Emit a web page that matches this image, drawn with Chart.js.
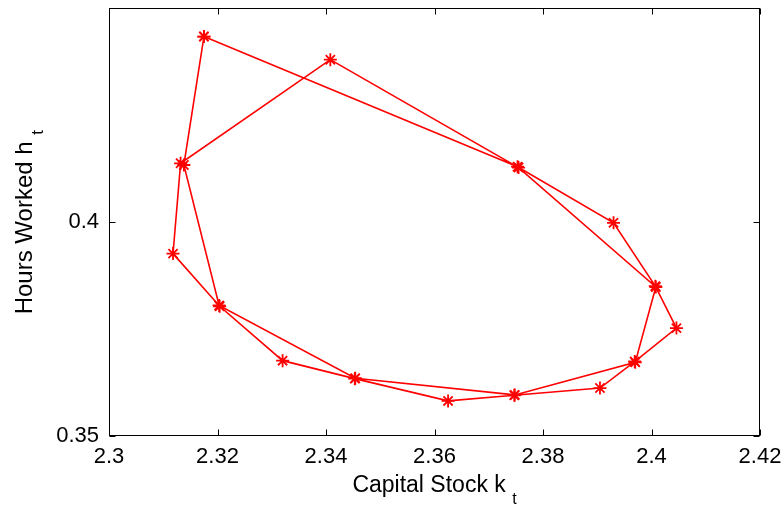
<!DOCTYPE html>
<html lang="en">
<head>
<meta charset="UTF-8">
<title>Capital Stock and Hours Worked</title>
<script src="https://cdn.jsdelivr.net/npm/chart.js"></script>
<style>
  body { margin: 0; background: #fff; }
  #wrap { width: 784px; height: 508px; }
</style>
</head>
<body>
<div id="wrap"><canvas id="cycle" width="784" height="508"></canvas></div>

<script>
    // simulated path of (k_t, h_t), in order
    const capital = [2.3175, 2.3753, 2.3930, 2.4007, 2.4046, 2.3969, 2.3905, 2.3747, 2.3625,
                     2.3453, 2.3320, 2.3204, 2.3118, 2.3132, 2.3408, 2.3755, 2.4008, 2.3970,
                     2.3748, 2.3454, 2.3203, 2.3138, 2.3175];
    const hours = [0.4433, 0.4129, 0.3998, 0.3850, 0.3752, 0.3674, 0.3612, 0.3595, 0.3582,
                   0.3634, 0.3676, 0.3803, 0.3926, 0.4137, 0.4379, 0.4127, 0.3848, 0.3672,
                   0.3596, 0.3635, 0.3805, 0.4133, 0.4433];

    const xTicks = [2.3, 2.32, 2.34, 2.36, 2.38, 2.4, 2.42];
    const xTickLabels = ['2.3', '2.32', '2.34', '2.36', '2.38', '2.4', '2.42'];
    const yTicks = [0.35, 0.4];
    const yTickLabels = ['0.35', '0.4'];

    const xTitle = 'Capital Stock k';
    const yTitle = 'Hours Worked h';
    const sub = 't';

    const FONT = '"Liberation Sans", Arial, Helvetica, sans-serif';

    const points = capital.map((k, i) => ({ x: k, y: hours[i] }));

    // draws "text _sub" with its left end at (x0, 0) in the current frame
    function titleWithSub(ctx, text, size, subSize, drop, center) {
        ctx.font = size + 'px ' + FONT;
        const w = ctx.measureText(text + ' ').width;
        ctx.font = subSize + 'px ' + FONT;
        const ws = ctx.measureText(sub).width;
        const x0 = center - (w + ws) / 2;
        ctx.font = size + 'px ' + FONT;
        ctx.fillText(text, x0, 0);
        ctx.font = subSize + 'px ' + FONT;
        ctx.fillText(sub, x0 + w, drop);
    }

    // box around the plot, inward ticks on all four sides, titles with subscripts
    const boxAxes = {
        id: 'boxAxes',
        afterDraw(chart) {
            const ctx = chart.ctx;
            const a = chart.chartArea;
            const sx = chart.scales.x;
            const sy = chart.scales.y;
            const L = Math.round(a.left) + 0.5, R = Math.round(a.right) - 0.5;
            const T = Math.round(a.top) + 0.5, B = Math.round(a.bottom) - 0.5;
            const tick = 6;

            ctx.save();
            ctx.strokeStyle = '#000';
            ctx.lineWidth = 1;
            ctx.strokeRect(L, T, R - L, B - T);

            ctx.beginPath();
            xTicks.forEach(v => {
                const px = Math.round(sx.getPixelForValue(v)) + 0.5;
                ctx.moveTo(px, B); ctx.lineTo(px, B - tick);
                ctx.moveTo(px, T); ctx.lineTo(px, T + tick);
            });
            yTicks.forEach(v => {
                const py = Math.round(sy.getPixelForValue(v)) + 0.5;
                ctx.moveTo(L, py); ctx.lineTo(L + tick, py);
                ctx.moveTo(R, py); ctx.lineTo(R - tick, py);
            });
            ctx.stroke();

            ctx.fillStyle = '#000';
            ctx.textBaseline = 'alphabetic';
            ctx.textAlign = 'left';

            // x title
            ctx.save();
            ctx.translate(0, 492);
            titleWithSub(ctx, xTitle, 23, 16, 12, (a.left + a.right) / 2);
            ctx.restore();

            // y title, rotated
            ctx.translate(32, (a.top + a.bottom) / 2);
            ctx.rotate(-Math.PI / 2);
            titleWithSub(ctx, yTitle, 24, 17, 11, 0);
            ctx.restore();
        }
    };

    const config = {
        type: 'scatter',
        data: {
            datasets: [{
                data: points,
                showLine: true,
                borderColor: '#ff0000',
                borderWidth: 1.6,
                pointStyle: 'star',
                pointRadius: 6.5,
                pointBorderWidth: 1.8,
                pointBorderColor: '#ff0000',
                pointBackgroundColor: '#ff0000',
                tension: 0
            }]
        },
        options: {
            responsive: false,
            animation: false,
            layout: { padding: { top: 6, right: 24, left: 0, bottom: 0 } },
            plugins: {
                legend: { display: false },
                tooltip: { enabled: false }
            },
            scales: {
                x: {
                    type: 'linear',
                    min: 2.3,
                    max: 2.42,
                    grid: { display: false, drawTicks: false },
                    border: { display: false },
                    afterBuildTicks: s => { s.ticks = xTicks.map(v => ({ value: v })); },
                    afterFit: s => { s.height = 72; s.paddingLeft = 0; s.paddingRight = 0; },
                    ticks: {
                        autoSkip: false,
                        maxRotation: 0,
                        padding: 8,
                        color: '#000',
                        font: { family: FONT, size: 22 },
                        callback: (v, i) => xTickLabels[i]
                    }
                },
                y: {
                    type: 'linear',
                    min: 0.35,
                    max: 0.4499,
                    grid: { display: false, drawTicks: false },
                    border: { display: false },
                    afterBuildTicks: s => { s.ticks = yTicks.map(v => ({ value: v })); },
                    afterFit: s => { s.width = 109; s.paddingTop = 0; s.paddingBottom = 0; },
                    ticks: {
                        autoSkip: false,
                        padding: 10,
                        color: '#000',
                        font: { family: FONT, size: 22 },
                        callback: (v, i) => yTickLabels[i]
                    }
                }
            }
        },
        plugins: [boxAxes]
    };

    const myChart = new Chart(document.getElementById('cycle'), config);
</script>
</body>
</html>
